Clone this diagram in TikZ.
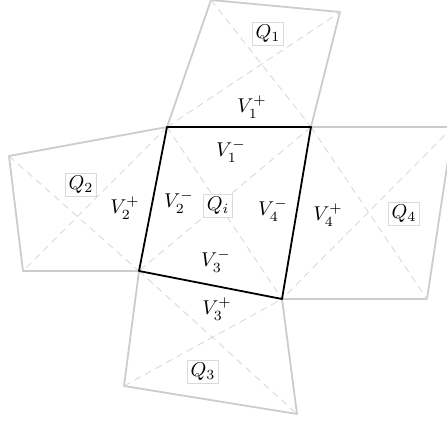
\documentclass[tikz,border=0pt]{standalone}
\begin{document}
\begin{tikzpicture}[x=0.5pt,y=-0.5pt,
  quadedge/.style={draw=black!20,line width=0.9pt,line join=round},
  diag/.style={draw=black!15,line width=0.45pt,dash pattern=on 3.5pt off 2.5pt},
  mainedge/.style={draw=black,line width=0.9pt,line join=round},
  qlab/.style={draw=black!15,line width=0.4pt,fill=white,inner sep=1.5pt},
  vlab/.style={inner sep=0.5pt}]
\useasboundingbox (0,0) rectangle (447,423);
\clip (0,0) rectangle (447,423);
% central vertices
\coordinate (A) at (167,127);
\coordinate (B) at (311,127);
\coordinate (C) at (282,299);
\coordinate (D) at (139,271);
% outer vertices
\coordinate (T1) at (211,0);
\coordinate (T2) at (340,12);
\coordinate (L1) at (9,156);
\coordinate (L2) at (23,271);
\coordinate (R1) at (453,127);
\coordinate (R2) at (427,299);
\coordinate (B1) at (124,386);
\coordinate (B2) at (297,414);
% neighbour quads
\draw[quadedge] (A) -- (T1) -- (T2) -- (B);
\draw[quadedge] (A) -- (L1) -- (L2) -- (D);
\draw[quadedge] (B) -- (R1) -- (R2) -- (C);
\draw[quadedge] (D) -- (B1) -- (B2) -- (C);
% diagonals
\draw[diag] (A) -- (T2) (T1) -- (B);
\draw[diag] (A) -- (L2) (L1) -- (D);
\draw[diag] (B) -- (R2) (R1) -- (C);
\draw[diag] (D) -- (B2) (B1) -- (C);
\draw[diag] (A) -- (C) (B) -- (D);
% central quad
\draw[mainedge] (A) -- (B) -- (C) -- (D) -- cycle;
% labels
\node[qlab] (q1) at (268,34) {$Q_1$};
\node[qlab] (q2) at (81,185) {$Q_2$};
\node[qlab] (q3) at (203,372) {$Q_3$};
\node[qlab] (q4) at (404,214) {$Q_4$};
\node[qlab] (qi) at (218,206) {$Q_i$};
\node[vlab] (v1p) at (252,107) {$V_1^+$};
\node[vlab] (v2p) at (125,208) {$V_2^+$};
\node[vlab] (v3p) at (217,309) {$V_3^+$};
\node[vlab] (v4p) at (328,215) {$V_4^+$};
\node[vlab] (v1m) at (231,151) {$V_1^-$};
\node[vlab] (v2m) at (179,202) {$V_2^-$};
\node[vlab] (v3m) at (216,261) {$V_3^-$};
\node[vlab] (v4m) at (273,210) {$V_4^-$};
\end{tikzpicture}
\end{document}
